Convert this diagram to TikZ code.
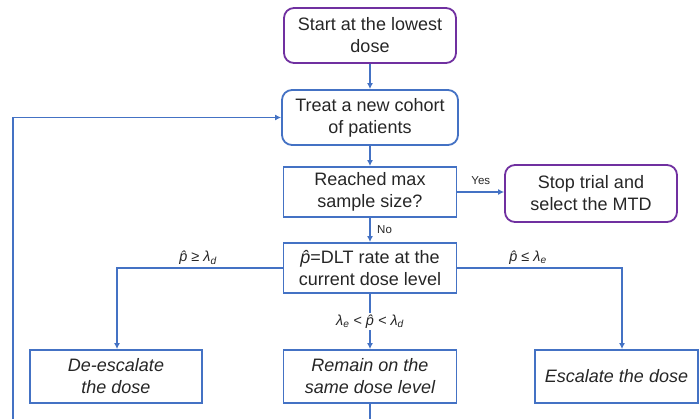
\documentclass[tikz,border=0pt]{standalone}
\usepackage{fontspec}
\setmainfont{Liberation Sans}
\usetikzlibrary{arrows.meta}
\definecolor{boxblue}{HTML}{4472C4}
\definecolor{boxpurple}{HTML}{7030A0}
\definecolor{txt}{HTML}{262626}
\newcommand{\myphat}{{\itshape\accent"02C6 p}}
\tikzset{
  base/.style={draw, line width=1.8pt, align=center, text=txt, font=\fontsize{18}{22}\selectfont, inner sep=0pt},
  roundpurple/.style={base, draw=boxpurple, rounded corners=10pt},
  roundblue/.style={base, draw=boxblue, rounded corners=10pt},
  rectblue/.style={base, draw=boxblue},
  itbox/.style={rectblue, font=\fontsize{18}{22}\selectfont\itshape},
  conn/.style={draw=boxblue, line width=1.8pt, -{Latex[length=6pt,width=6pt]}},
  plain/.style={draw=boxblue, line width=1.8pt},
  lab/.style={text=txt, font=\fontsize{11.5}{13}\selectfont},
  mlab/.style={text=txt, font=\fontsize{14.5}{16}\selectfont\itshape},
}
\begin{document}
\begin{tikzpicture}[x=1pt,y=-1pt]
\useasboundingbox (0,0) rectangle (700,419);
\node[roundpurple, minimum width=172pt, minimum height=55pt] (start) at (370,35.5) {Start at the lowest\\dose};
\node[roundblue, minimum width=176pt, minimum height=55pt] (treat) at (370,117.5) {Treat a new cohort\\of patients};
\node[rectblue, minimum width=173pt, minimum height=50pt] (reach) at (370,192) {Reached max\\sample size?};
\node[roundpurple, minimum width=172pt, minimum height=57pt] (stop) at (591,193.5) {Stop trial and\\select the MTD};
\node[rectblue, minimum width=173pt, minimum height=50pt] (phat) at (370,268) {\myphat=DLT rate at the\\current dose level};
\node[itbox, minimum width=172pt, minimum height=53pt] (deesc) at (116,376.5) {De-escalate\\the dose};
\node[itbox, minimum width=173pt, minimum height=53pt] (remain) at (370,376.5) {Remain on the\\same dose level};
\node[itbox, minimum width=163pt, minimum height=53pt] (esc) at (616.5,376.5) {Escalate the dose};
\coordinate (rbot) at (370,419);
\coordinate (lbot) at (13,419);
\coordinate (ltop) at (13,117.5);
\coordinate (deturn) at (117,268);
\coordinate (esturn) at (622,268);

\draw[conn] (start) -- (treat);
\draw[conn] (treat) -- (reach);
\draw[conn] (reach.east) -- node[lab, above=3pt] (yes) {Yes} (stop.west |- reach.east);
\draw[conn] (reach) -- node[lab, right=3pt] (no) {No} (phat);
\draw[conn] (phat.west) -- (deturn) -- (deesc.north -| deturn);
\draw[conn] (phat.east) -- (esturn) -- (esc.north -| esturn);
\draw[conn] (phat) -- node[mlab, fill=white, inner sep=2pt] (mid) {λ\textsubscript{e} < \myphat\ < λ\textsubscript{d}} (remain);
\draw[plain] (remain) -- (rbot);
\draw[conn] (lbot) -- (ltop) -- (treat.west);
\node[mlab] (labd) at (198,258) {\myphat\ ≥ λ\textsubscript{d}};
\node[mlab] (labe) at (528,258) {\myphat\ ≤ λ\textsubscript{e}};
\end{tikzpicture}
\end{document}
